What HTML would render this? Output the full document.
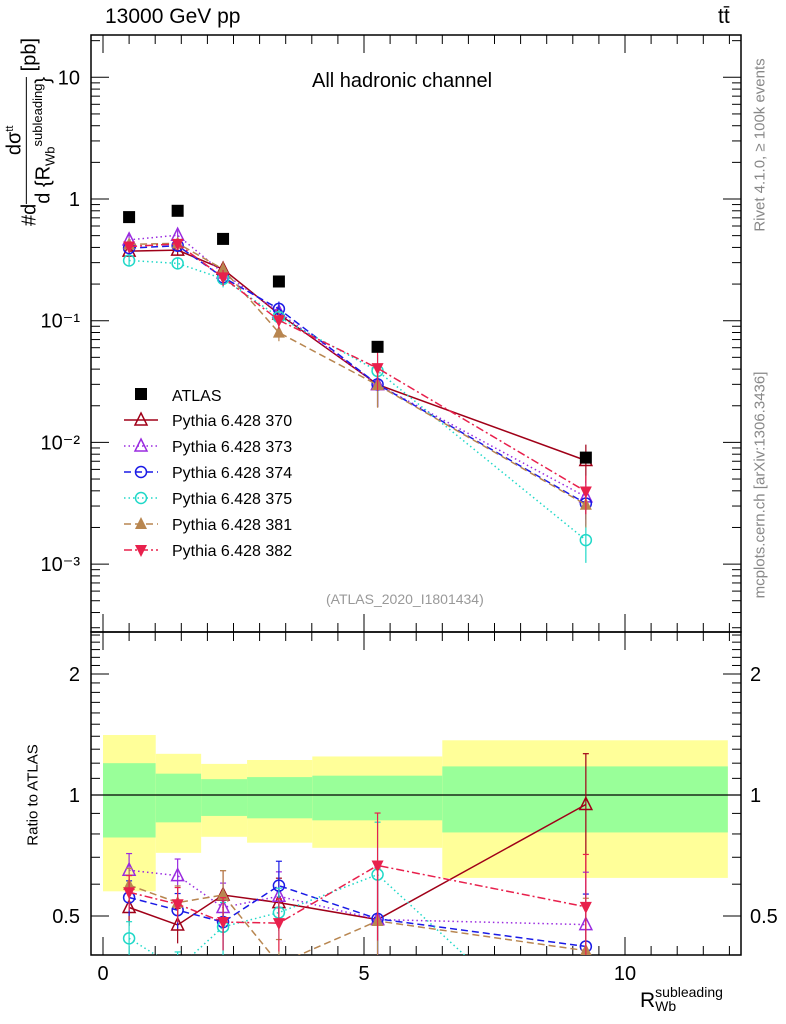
<!DOCTYPE html>
<html><head><meta charset="utf-8"><style>
html,body{margin:0;background:#fff;width:786px;height:1024px;overflow:hidden}
svg{font-family:"Liberation Sans",sans-serif;display:block}
</style></head><body>
<svg id="c" width="786" height="1024" xmlns="http://www.w3.org/2000/svg"></svg>
<script>
// ---- data ----
const binEdges=[0,1.01,1.88,2.76,4.01,6.5,11.97];
const xPoints=[0.5,1.43,2.3,3.37,5.26,9.25];
const atlasValues=[0.71,0.80,0.47,0.21,0.061,0.0075];
const yellowHi=[1.41,1.266,1.195,1.222,1.247,1.368];
const greenHi=[1.20,1.13,1.095,1.108,1.117,1.178];
const greenLo=[0.784,0.855,0.887,0.875,0.865,0.807];
const yellowLo=[0.576,0.718,0.787,0.761,0.739,0.622];
const ratio370=[0.525,0.475,0.564,0.54,0.49,0.947];
const ratio373=[0.65,0.63,0.525,0.56,0.49,0.476];
const ratio374=[0.556,0.517,0.483,0.595,0.492,0.42];
const ratio375=[0.44,0.37,0.47,0.51,0.634,0.21];
const ratio381=[0.597,0.54,0.564,0.38,0.486,0.41];
const ratio382=[0.573,0.535,0.483,0.48,0.668,0.527];
const mcRelErr=[0.1,0.1,0.15,0.15,0.35,0.35];
const xTicks=[0,5,10];
const mainTickLabels=["10","1","10\u207B\u00B9","10\u207B\u00B2","10\u207B\u00B3"];
const mainTickValues=[10,1,0.1,0.01,0.001];
const ratioTickValues=[2,1,0.5];
const ratioTickLabels=["2","1","0.5"];

// ---- axes ----
const L=91,R=741,T=35,MB=632,RB=955;
const X=v=>103+v*52.2;
const Y=v=>199-121.7*Math.log10(v);
const YR=v=>795-402*Math.log10(v);
const S=document.getElementById('c');
function el(t,a,p){const e=document.createElementNS('http://www.w3.org/2000/svg',t);for(const k in a)e.setAttribute(k,a[k]);(p||S).appendChild(e);return e;}
function txt(s,a){const e=el('text',a);e.textContent=s;return e;}
// clip a polyline against y<=lim, returning list of point strings (single path)
function clipPoly(pts,lim){
  const out=[];
  for(let i=0;i<pts.length;i++){
    const p=pts[i];
    if(i>0){const q=pts[i-1];
      if((q[1]<=lim)!==(p[1]<=lim)){const t=(lim-q[1])/(p[1]-q[1]);out.push([q[0]+t*(p[0]-q[0]),lim]);}
    }
    if(p[1]<=lim)out.push(p);
  }
  return out.map(p=>p[0]+','+p[1]).join(' ');
}

const gM=el('g',{});


const clipR=el('clipPath',{id:'cr'});el('rect',{x:L,y:MB,width:R-L,height:RB-MB},clipR);
const clipM=el('clipPath',{id:'cm'});el('rect',{x:L,y:T,width:R-L,height:MB-T},clipM);
for(let i=0;i<6;i++){
  const x0=X(binEdges[i]),x1=X(binEdges[i+1]);
  const y=el('rect',{x:x0,y:YR(yellowHi[i]),width:x1-x0,height:YR(yellowLo[i])-YR(yellowHi[i]),fill:'#ffff99'},gM);
  
  
  const g=el('rect',{x:x0,y:YR(greenHi[i]),width:x1-x0,height:YR(greenLo[i])-YR(greenHi[i]),fill:'#99ff99'},gM);
  
  
}
el('line',{x1:L,x2:R,y1:YR(1),y2:YR(1),stroke:'#000','stroke-width':1.2});

el('rect',{x:L,y:T,width:R-L,height:MB-T,fill:'none',stroke:'#000','stroke-width':1.5});
el('rect',{x:L,y:MB,width:R-L,height:RB-MB,fill:'none',stroke:'#000','stroke-width':1.5});

for(let v=0;v<=12.2;v+=0.5){
  const big=v%5===0, len=big?18:9;
  for(const [yb,yt] of [[MB,T],[RB,MB]]){
    el('line',{x1:X(v),x2:X(v),y1:yb,y2:yb-len,stroke:'#000'});
    el('line',{x1:X(v),x2:X(v),y1:yt,y2:yt+len,stroke:'#000'});
  }
}
xTicks.forEach(v=>{const t=txt(String(v),{x:X(v),y:980,'font-size':20,'text-anchor':'middle'});

});
for(let d=-4;d<=1;d++)for(let m=1;m<10;m++){const v=m*Math.pow(10,d);const y=Y(v);if(y<T||y>MB)continue;
  const len=m===1?18:9;el('line',{x1:L,x2:L+len,y1:y,y2:y,stroke:'#000'});el('line',{x1:R,x2:R-len,y1:y,y2:y,stroke:'#000'});}
mainTickValues.forEach((v,i)=>{const t=txt(mainTickLabels[i],{x:80,y:Y(v)+7,'font-size':20,'text-anchor':'end'});

});
for(let v=0.4;v<=2.6;v+=0.1){const y=YR(v);if(y<MB||y>RB)continue;const big=Math.abs(v-1)<1e-6||Math.abs(v-2)<1e-6||Math.abs(v-0.5)<1e-6;
  const len=big?18:9;el('line',{x1:L,x2:L+len,y1:y,y2:y,stroke:'#000'});el('line',{x1:R,x2:R-len,y1:y,y2:y,stroke:'#000'});}
ratioTickValues.forEach((v,i)=>{
  const a=txt(ratioTickLabels[i],{x:80,y:YR(v)+7,'font-size':20,'text-anchor':'end'});
  
  
  const b=txt(ratioTickLabels[i],{x:750,y:YR(v)+7,'font-size':20});
  
  
});

const series=[
 {n:'370',r:ratio370,c:'#a00018',d:'',m:'tri-open'},
 {n:'373',r:ratio373,c:'#9a2be0',d:'1.5,3',m:'tri-open'},
 {n:'374',r:ratio374,c:'#1a1ae6',d:'7,4',m:'circ'},
 {n:'375',r:ratio375,c:'#20d8c8',d:'1.5,3',m:'circ'},
 {n:'381',r:ratio381,c:'#b88650',d:'7,4',m:'tri-fill'},
 {n:'382',r:ratio382,c:'#e8204c',d:'8,3,2,3',m:'tri-down'}
];
function marker(m,x,y,c,g){
  if(m==='tri-open')return el('path',{d:`M${x},${y-7}L${x+6},${y+5}L${x-6},${y+5}Z`,fill:'none',stroke:c,'stroke-width':1.5},g);
  if(m==='circ')return el('circle',{cx:x,cy:y,r:5.5,fill:'none',stroke:c,'stroke-width':1.5},g);
  if(m==='tri-fill')return el('path',{d:`M${x},${y-7}L${x+6},${y+5}L${x-6},${y+5}Z`,fill:c},g);
  return el('path',{d:`M${x},${y+7}L${x+6},${y-5}L${x-6},${y-5}Z`,fill:c},g);
}
const LIM=RB+2;
series.forEach(s=>{
  const gm=el('g',{'clip-path':'url(#cm)'});
  
  
  const gr=el('g',{'clip-path':'url(#cr)'});
  
  
  const pm=xPoints.map((x,i)=>X(x)+','+Y(atlasValues[i]*s.r[i])).join(' ');
  const pr=clipPoly(xPoints.map((x,i)=>[X(x),YR(s.r[i])]),LIM);
  el('polyline',{points:pm,fill:'none',stroke:s.c,'stroke-width':1.5,'stroke-dasharray':s.d},gm);
  el('polyline',{points:pr,fill:'none',stroke:s.c,'stroke-width':1.5,'stroke-dasharray':s.d},gr);
  xPoints.forEach((x,i)=>{
    const v=atlasValues[i]*s.r[i], e=mcRelErr[i];
    el('line',{x1:X(x),x2:X(x),y1:Y(v*(1+e)),y2:Y(v*(1-e)),stroke:s.c,'stroke-width':1.2},gm);
    const mm=marker(s.m,X(x),Y(v),s.c,gm);
    
    
    const hi=s.n==='370'&&i===5?s.r[i]+0.32:s.r[i]*(1+e), lo=s.n==='370'&&i===5?0.3:s.r[i]*(1-e);
    const yh=YR(hi), yl=Math.min(YR(lo),LIM);
    if(yh<LIM){
      el('line',{x1:X(x),x2:X(x),y1:yh,y2:yl,stroke:s.c,'stroke-width':1.2},gr);
      el('line',{x1:X(x)-3,x2:X(x)+3,y1:yh,y2:yh,stroke:s.c,'stroke-width':1.2},gr);
    }
    const yr=YR(s.r[i]);
    if(yr<RB+6){
      const mr=marker(s.m,X(x),yr,s.c,gr);
      
      
    }
  });
});
xPoints.forEach((x,i)=>{const r=el('rect',{x:X(x)-6,y:Y(atlasValues[i])-6,width:12,height:12,fill:'#000'});

});

const lg=el('g',{});


el('rect',{x:135,y:388,width:12,height:12,fill:'#000'},lg);
const t0=txt('ATLAS',{x:172,y:401,'font-size':16});lg.appendChild(t0);
series.forEach((s,i)=>{const y=420+i*26;
  el('line',{x1:124,x2:158,y1:y,y2:y,stroke:s.c,'stroke-width':1.5,'stroke-dasharray':s.d},lg);
  marker(s.m,141,y,s.c,lg);
  const t=txt('Pythia 6.428 '+s.n,{x:172,y:y+6,'font-size':16});lg.appendChild(t);
  
  
});
</script>
<div style="position:absolute;left:0;top:0;width:786px;height:1024px;overflow:hidden;pointer-events:none;font-family:'Liberation Sans',sans-serif">
<div style="position:absolute;left:105px;top:5px;font-size:21px">13000 GeV pp</div>
<div style="position:absolute;left:718px;top:5px;font-size:21px">tt&#772;</div>
<div style="position:absolute;left:312px;top:70px;font-size:20px">All hadronic channel</div>
<div style="position:absolute;left:326px;top:591px;font-size:14px;color:#999">(ATLAS_2020_I1801434)</div>
<div style="position:absolute;left:760px;top:145px;font-size:15px;color:#888;white-space:nowrap;transform:translate(-50%,-50%) rotate(-90deg)">Rivet 4.1.0, &ge; 100k events</div>
<div style="position:absolute;left:760px;top:485px;font-size:15px;color:#888;white-space:nowrap;transform:translate(-50%,-50%) rotate(-90deg)">mcplots.cern.ch [arXiv:1306.3436]</div>
<div style="position:absolute;left:30px;top:132px;font-size:20px;white-space:nowrap;transform:translate(-50%,-50%) rotate(-90deg)">#d<span style="display:inline-block;vertical-align:middle;text-align:center;font-size:20px;line-height:22px"><span style="display:block;border-bottom:1px solid #000">dσ<sup style="font-size:11px">tt</sup></span>d {R<sub style="font-size:13px">Wb</sub><sup style="font-size:13px">subleading</sup>}</span> [pb]</div>
<div style="position:absolute;left:33px;top:795px;font-size:15px;white-space:nowrap;transform:translate(-50%,-50%) rotate(-90deg)">Ratio to ATLAS</div>
<div style="position:absolute;left:640px;top:985px;font-size:21px;white-space:nowrap">R<span style="display:inline-block;vertical-align:-4px;font-size:14px;line-height:14px"><span style="display:block">subleading</span><span style="display:block">Wb</span></span></div>
</div>
</body></html>
